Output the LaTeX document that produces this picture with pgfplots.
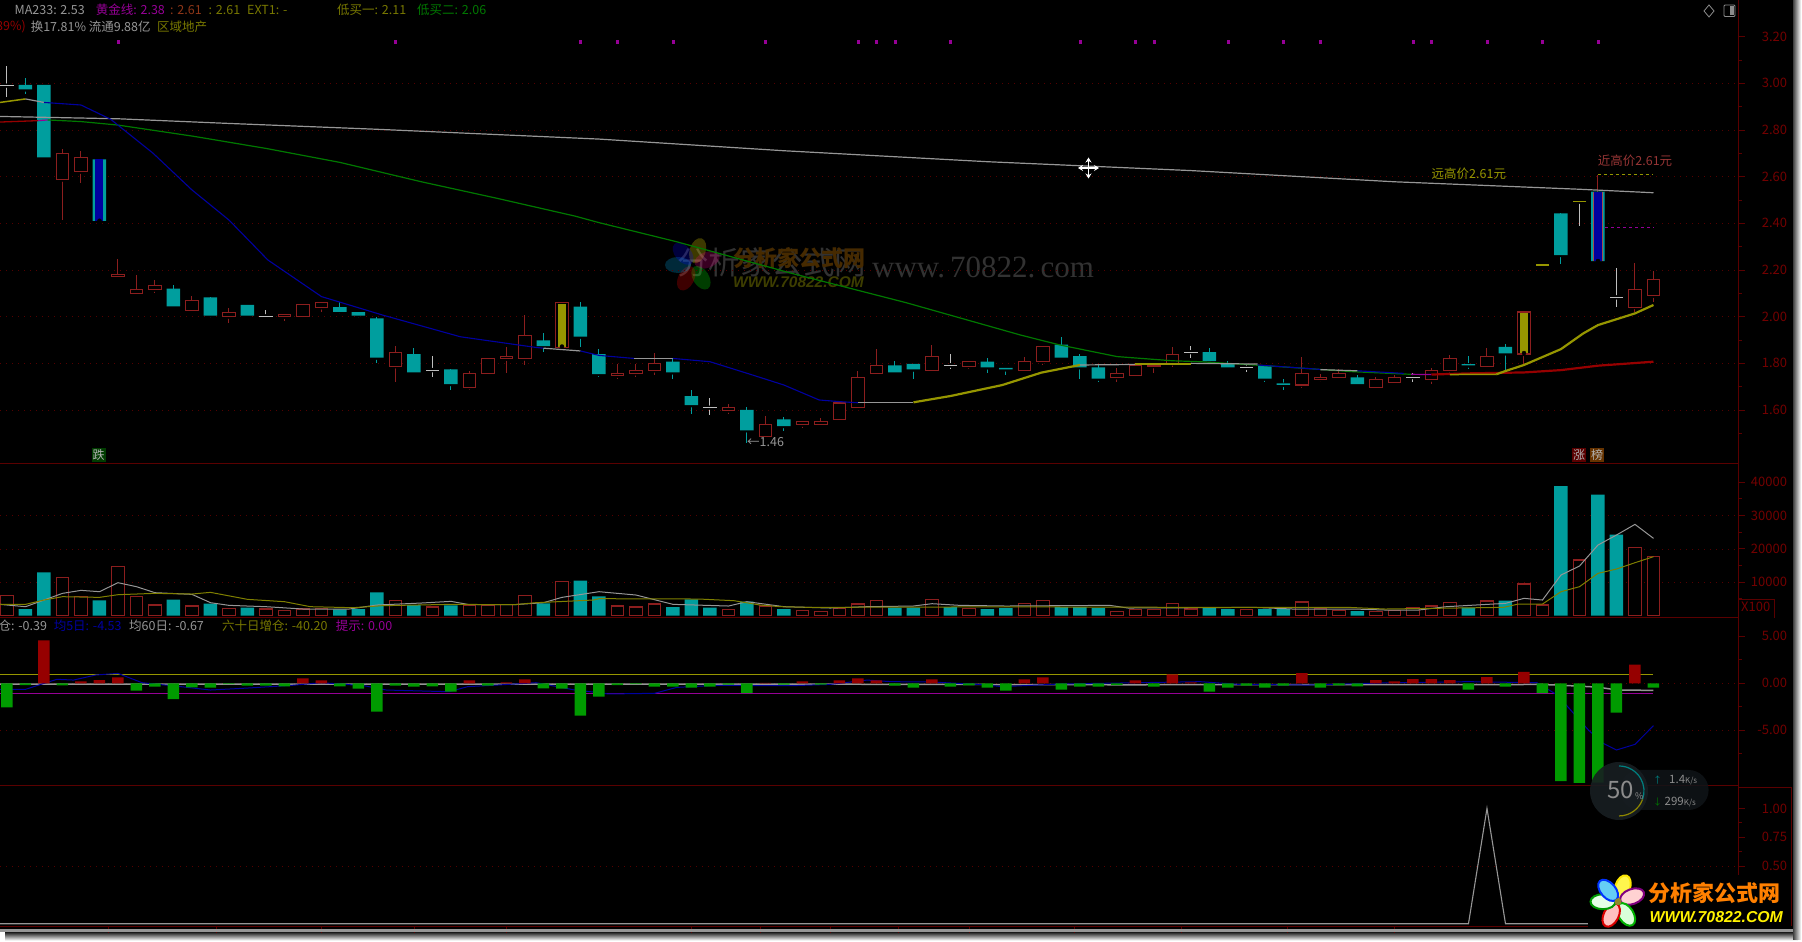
\documentclass[border=0pt]{standalone}
\usepackage{fontspec}
\setmainfont{Noto Sans CJK SC}
\newfontfamily\serifw{Liberation Serif}
\newfontfamily\logow{Liberation Sans}
\usepackage{pgfplots}
\usepackage{pgfplotstable}
\usetikzlibrary{arrows.meta}
\pgfplotsset{compat=1.18}
\definecolor{ccyan}{RGB}{0,158,158}
\definecolor{cred}{RGB}{140,30,30}
\definecolor{axred}{RGB}{90,0,0}
\definecolor{tickred}{RGB}{115,0,0}
\definecolor{gridred}{RGB}{85,0,0}
\definecolor{cgrey}{RGB}{150,150,150}
\definecolor{clight}{RGB}{190,190,190}
\definecolor{colive}{RGB}{150,150,0}
\definecolor{cblue}{RGB}{0,0,160}
\definecolor{cgreen}{RGB}{0,120,0}
\definecolor{bgreen}{RGB}{0,155,0}
\definecolor{bred}{RGB}{150,0,0}
\definecolor{cpurple}{RGB}{150,0,150}
\definecolor{widgetbg}{RGB}{24,30,34}
\definecolor{widgetpill}{RGB}{16,20,24}
\definecolor{wmorange}{RGB}{70,42,0}
\definecolor{wmolive}{RGB}{62,62,0}
\definecolor{wmgrey}{RGB}{50,50,50}

% candles: i low bodybottom bodytop high
\pgfplotstableread{
i low bot top high
1 2.953 2.974 2.993 3.024
2 2.674 2.683 2.993 2.993
5 2.411 2.411 2.674 2.674
9 2.044 2.044 2.120 2.134
11 1.996 2.004 2.083 2.083
13 2.004 2.004 2.051 2.051
18 2.013 2.021 2.041 2.061
19 1.996 2.004 2.020 2.020
20 1.800 1.824 1.993 2.000
22 1.761 1.761 1.840 1.864
24 1.686 1.711 1.774 1.774
29 1.850 1.874 1.898 1.931
31 1.871 1.914 2.043 2.061
32 1.743 1.754 1.840 1.860
36 1.733 1.761 1.807 1.824
37 1.581 1.621 1.660 1.686
40 1.457 1.513 1.601 1.613
42 1.511 1.531 1.560 1.571
48 1.761 1.761 1.791 1.810
49 1.734 1.774 1.798 1.798
53 1.760 1.783 1.807 1.821
54 1.751 1.774 1.781 1.781
57 1.824 1.824 1.880 1.911
58 1.733 1.783 1.831 1.840
59 1.721 1.734 1.783 1.793
65 1.804 1.810 1.848 1.864
66 1.783 1.783 1.797 1.810
68 1.721 1.734 1.790 1.790
69 1.686 1.708 1.714 1.733
73 1.711 1.711 1.740 1.750
79 1.774 1.791 1.797 1.831
81 1.771 1.843 1.871 1.881
84 2.224 2.264 2.443 2.443
86 2.238 2.238 2.536 2.536
}\candledown
\pgfplotstableread{
i low bot top high
3 2.414 2.588 2.700 2.717
4 2.574 2.621 2.681 2.710
6 2.171 2.171 2.181 2.246
7 2.093 2.098 2.118 2.178
8 2.103 2.116 2.133 2.157
10 2.025 2.025 2.068 2.088
12 1.971 2.000 2.018 2.038
15 1.981 2.000 2.010 2.013
16 1.996 2.000 2.051 2.051
17 2.021 2.040 2.060 2.064
21 1.721 1.788 1.848 1.875
25 1.686 1.698 1.758 1.768
26 1.752 1.757 1.821 1.825
27 1.760 1.820 1.830 1.868
28 1.793 1.820 1.920 2.007
30 1.868 1.868 2.060 2.060
33 1.733 1.747 1.758 1.796
34 1.743 1.757 1.771 1.796
35 1.750 1.770 1.800 1.846
39 1.581 1.598 1.610 1.624
41 1.487 1.487 1.538 1.576
43 1.523 1.537 1.550 1.550
44 1.537 1.537 1.550 1.566
45 1.560 1.560 1.630 1.630
46 1.609 1.609 1.738 1.768
47 1.750 1.756 1.790 1.860
50 1.770 1.770 1.828 1.877
52 1.774 1.788 1.807 1.807
55 1.761 1.770 1.807 1.827
56 1.793 1.807 1.871 1.875
60 1.721 1.740 1.758 1.779
61 1.747 1.747 1.793 1.793
62 1.760 1.788 1.793 1.793
63 1.786 1.800 1.838 1.868
70 1.693 1.707 1.757 1.827
71 1.721 1.730 1.740 1.754
72 1.738 1.738 1.757 1.774
74 1.698 1.698 1.731 1.743
75 1.711 1.718 1.740 1.750
77 1.711 1.731 1.771 1.779
78 1.757 1.770 1.820 1.834
80 1.781 1.788 1.828 1.867
82 1.793 1.840 2.020 2.020
88 2.021 2.041 2.117 2.228
89 2.064 2.090 2.160 2.197
}\candleup
\pgfplotstableread{
i low mid high
0 2.943 2.990 3.074
14 2.000 2.002 2.028
23 1.743 1.771 1.831
38 1.580 1.610 1.650
51 1.774 1.791 1.840
64 1.824 1.848 1.874
67 1.761 1.781 1.793
76 1.721 1.741 1.760
85 2.390 2.493 2.493
87 2.043 2.083 2.210
}\candledoji

% volume
\pgfplotstableread{
i v
1 1950
2 12950
5 4550
9 4750
11 3550
13 2350
18 1850
19 1950
20 6950
22 3150
24 3050
29 3650
31 10450
32 5750
36 2550
37 4850
38 2350
40 4150
42 1950
48 2350
49 2350
51 2550
53 1950
54 2250
57 2550
58 2550
59 2250
65 2350
66 1950
68 1950
69 1950
73 1350
79 2350
81 4450
84 38850
86 36250
87 24250
}\voldown
\pgfplotstableread{
i v
0 5950
3 11350
4 5650
6 14750
7 5750
8 3150
10 2850
12 2150
14 1950
15 1550
16 1950
17 2150
21 4450
23 2550
25 3050
26 3050
27 3350
28 5950
30 10150
33 2850
34 2550
35 3450
39 1850
41 2850
43 1550
44 1150
45 2250
46 3450
47 4450
50 4750
52 2150
55 3550
56 4450
60 1150
61 1850
62 1850
63 3550
64 1950
67 1850
70 4050
71 2150
72 1550
74 1150
75 1550
76 2450
77 2850
78 3850
80 4350
82 9450
83 3150
85 16650
88 20350
89 17650
}\volup

% daily flow bars
\pgfplotstableread{
i v
2 4.57
4 0.21
5 0.35
6 0.64
16 0.53
17 0.32
25 0.32
27 0.11
28 0.43
41 0.04
43 0.21
45 0.32
46 0.53
47 0.32
50 0.43
55 0.43
56 0.64
61 0.32
63 0.96
64 0.11
70 1.10
74 0.35
75 0.21
76 0.46
77 0.46
78 0.35
80 0.67
82 1.21
88 1.99
}\flowup
\pgfplotstableread{
i v
0 -2.55
1 -0.18
3 -0.21
7 -0.78
8 -0.35
9 -1.67
10 -0.43
11 -0.46
12 -0.07
13 -0.25
14 -0.25
15 -0.32
18 -0.32
19 -0.57
20 -3.01
21 -0.25
22 -0.35
23 -0.32
24 -0.89
26 -0.25
29 -0.53
30 -0.57
31 -3.44
32 -1.42
33 -0.18
34 -0.07
35 -0.35
36 -0.35
37 -0.46
38 -0.35
39 -0.14
40 -1.03
42 -0.14
44 -0.14
48 -0.25
49 -0.46
51 -0.35
52 -0.21
53 -0.46
54 -0.78
57 -0.67
58 -0.35
59 -0.35
60 -0.18
62 -0.35
65 -0.89
66 -0.46
67 -0.25
68 -0.46
69 -0.25
71 -0.46
72 -0.21
73 -0.32
79 -0.67
81 -0.35
83 -1.03
84 -10.39
85 -10.60
86 -10.57
87 -3.12
89 -0.46
}\flowdown

\pgfplotsset{
  panel/.style={scale only axis, width=1738.6pt, xmin=-0.378, xmax=93.6,
    anchor=south west, clip=true},
  mainp/.style={panel, at={(0pt,478.3pt)}, height=463.7pt, ymin=1.370, ymax=3.357},
  redaxis/.style={axis y line*=right, axis x line*=bottom, xtick=\empty,
    axis line style={axred, line width=0.9pt, -},
    tick style={axred, line width=0.8pt}, tick align=outside,
    major tick length=6pt, minor tick length=3pt,
    grid style={gridred, line width=0.7pt, dash pattern=on 1pt off 5pt},
    yticklabel style={text=tickred, anchor=east, xshift=46pt,
      font=\fontsize{13}{13}\selectfont,
      /pgf/number format/assume math mode=true,
      /pgf/number format/fixed}},
  twodec/.style={yticklabel style={/pgf/number format/fixed zerofill, /pgf/number format/precision=2}},
  wick/.style={only marks, mark=none, forget plot,
    error bars/y dir=both, error bars/y explicit, error bars/error mark=none,
    error bars/error bar style={solid, line width=1pt, #1}},
  barbody/.style={only marks, mark=none, forget plot,
    error bars/y dir=plus, error bars/y explicit, error bars/error mark=none,
    error bars/error bar style={solid, line width=#1}},
  flatmark/.style={only marks, mark=-, mark size=6.7pt, forget plot,
    mark options={solid, line width=1.2pt, #1}},
}

\begin{document}
\begin{tikzpicture}[x=1pt,y=1pt,
    lbl/.style={inner sep=0pt, anchor=west, font=\fontsize{12.5}{13}\selectfont},
    petal/.style n args={2}{fill=#1, draw=#2, line width=2pt}]
\path[use as bounding box] (0,0) rectangle (1802,942);
\fill[white] (0,0) rectangle (1802,942);
\shade[top color=black!85, bottom color=white] (5,1.5) rectangle (1798,9.5);
\shade[left color=black!75, right color=white] (1793,2) rectangle (1801,941);
\fill[black] (0,12.7) rectangle (1793,942);

% faint watermark in the middle
\node[lbl, text=wmgrey, font=\fontsize{31.5}{32}\selectfont] at (677,680) {分析家公式网};
\begin{scope}[opacity=0.24]
  \foreach \a/\c in {72/yellow,20/magenta,-58/green,-117/red,180/cyan,131/blue}
    \fill[\c, rotate around={\a:(693,677)}] (708,677) ellipse (13 and 8);
\end{scope}
\node[lbl, text=wmorange, font=\fontsize{22}{24}\bfseries\selectfont] at (733,684) {分析家公式网};
\node[lbl, text=wmolive, font=\logow\fontsize{15.5}{16}\bfseries\itshape\selectfont] at (733,660) {WWW.70822.COM};
\node[lbl, text=wmgrey, font=\serifw\fontsize{31}{32}\selectfont] at (872,675) {www.\,70822.\,com};

% price panel: frame, grid, wicks
\begin{axis}[mainp, redaxis, twodec, ymajorgrids,
    ytick={1.6,1.8,2.0,2.2,2.4,2.6,2.8,3.0},
    extra y ticks={3.2}, extra y tick style={grid=none},
    minor ytick={1.5,1.7,1.9,2.1,2.3,2.5,2.7,2.9,3.1}]
  \addplot[wick=ccyan] table[x=i, y=bot, y error plus expr=\thisrow{high}-\thisrow{bot}, y error minus expr=\thisrow{bot}-\thisrow{low}] {\candledown};
  \addplot[wick=cred] table[x=i, y=bot, y error plus expr=\thisrow{high}-\thisrow{bot}, y error minus expr=\thisrow{bot}-\thisrow{low}] {\candleup};
  \addplot[cred, line width=1pt, forget plot] coordinates {(86,2.536) (86,2.608)};
  \addplot[wick=clight] table[x=i, y=mid, y error plus expr=\thisrow{high}-\thisrow{mid}, y error minus expr=\thisrow{mid}-\thisrow{low}] {\candledoji};
  \addplot[flatmark=clight] table[x=i, y=mid] {\candledoji};
\end{axis}

% candle bodies, falling days
\begin{axis}[mainp, hide axis, ybar stacked, bar width=13.5pt]
  \addplot[draw=none, fill=none] table[x=i, y=bot] {\candledown};
  \addplot[draw=none, fill=ccyan] table[x=i, y expr=\thisrow{top}-\thisrow{bot}] {\candledown};
\end{axis}
% candle bodies, rising days
\begin{axis}[mainp, hide axis, ybar stacked, bar width=12.6pt]
  \addplot[draw=none, fill=none] table[x=i, y=bot] {\candleup};
  \addplot[draw=cred, fill=black, line width=1.1pt] table[x=i, y expr=\thisrow{top}-\thisrow{bot}] {\candleup};
\end{axis}

% marked candles, moving averages, signals
\begin{axis}[mainp, hide axis]
  \addplot[barbody=8pt, error bars/error bar style={cblue}] table[x=i, y=bot, y error expr=\thisrow{top}-\thisrow{bot}] {
i bot top
5 2.411 2.674
};
  \addplot[barbody=9.5pt, error bars/error bar style={cred!80!white}] table[x=i, y=bot, y error expr=\thisrow{top}-\thisrow{bot}] {
i bot top
86 2.238 2.536
};
  \addplot[barbody=7.5pt, error bars/error bar style={cblue}] table[x=i, y=bot, y error expr=\thisrow{top}-\thisrow{bot}] {
i bot top
86 2.238 2.536
};
  \addplot[barbody=8pt, error bars/error bar style={colive}] table[x=i, y=bot, y error expr=\thisrow{top}-\thisrow{bot}] {
i bot top
30 1.872 2.056
82 1.844 2.016
};
  % flat ticks of the two olive dojis
  \addplot[flatmark=colive] coordinates {(83,2.221) (85,2.493)};

  % MA233
  \addplot[cgrey, line width=1.2pt] coordinates {(-0.378,2.858) (6,2.848) (12,2.828) (20,2.803) (32,2.761) (42,2.711) (53,2.664) (64,2.626) (75,2.578) (85,2.546) (89,2.531)};
  % red / green long average
  \addplot[bred, line width=1.3pt] coordinates {(-0.378,2.834) (1.7,2.84)};
  \addplot[cpurple, line width=1.2pt] coordinates {(1.7,2.84) (2.2,2.843)};
  \addplot[cgreen, line width=1.2pt] coordinates {(2.2,2.843) (4,2.836) (6,2.821) (10,2.774) (14,2.721) (18,2.661) (22.4,2.578) (26.5,2.507) (30.7,2.431) (32,2.403) (36.2,2.321) (42.4,2.186) (48.6,2.060) (54.8,1.921) (56.9,1.879) (60,1.829) (63,1.811) (64.5,1.807) (66.6,1.797) (69.7,1.781) (72.8,1.764) (75.9,1.753)};
  \addplot[cpurple, line width=1.2pt] coordinates {(75.9,1.753) (77,1.752)};
  \addplot[bred, line width=2.2pt] coordinates {(77,1.752) (79,1.757) (82,1.761) (84,1.771) (86,1.790) (89,1.807)};
  % short average, colour follows its direction
  \addplot[colive, line width=1.5pt] coordinates {(-0.378,2.918) (1,2.933)};
  \addplot[cgrey, line width=1.2pt] coordinates {(1,2.933) (2,2.918)};
  \addplot[cblue, line width=1.1pt] coordinates {(2,2.918) (4,2.907) (5.6,2.846) (7.9,2.70) (10,2.543) (12,2.414) (14.1,2.243) (17,2.086) (20.3,2.007) (24.5,1.914) (28.6,1.868) (29,1.865)};
  \addplot[cgrey, line width=1.2pt] coordinates {(29,1.865) (31,1.853)};
  \addplot[cblue, line width=1.1pt] coordinates {(31,1.853) (32,1.834) (33.9,1.821)};
  \addplot[cgrey, line width=1.2pt] coordinates {(33.9,1.821) (36,1.821)};
  \addplot[cblue, line width=1.1pt] coordinates {(36,1.821) (38,1.807) (40.3,1.75) (42,1.707) (43.9,1.643) (45,1.636) (46,1.631)};
  \addplot[cgrey, line width=1.2pt] coordinates {(46,1.631) (49,1.631)};
  \addplot[colive, line width=2.2pt] coordinates {(49,1.633) (51,1.660) (53.8,1.707) (55.9,1.760) (58,1.793)};
  \addplot[cgrey, line width=1.2pt] coordinates {(58,1.793) (61,1.795)};
  \addplot[colive, line width=2.2pt] coordinates {(61,1.797) (64,1.797)};
  \addplot[cgrey, line width=1.2pt] coordinates {(64,1.80) (67.6,1.797)};
  \addplot[cblue, line width=1.1pt] coordinates {(67.6,1.793) (71,1.774)};
  \addplot[cgrey, line width=1.2pt] coordinates {(71,1.773) (73,1.768)};
  \addplot[cblue, line width=1.1pt] coordinates {(73,1.768) (75.5,1.757)};
  \addplot[colive, line width=1.5pt] coordinates {(78,1.752) (80.5,1.753)};
  \addplot[colive, line width=2.2pt] coordinates {(80.5,1.753) (81,1.767) (82,1.793) (84,1.861) (85.2,1.928) (86,1.964) (88,2.014) (89,2.050)};
  % signal dots and the two dashed levels
  \addplot[only marks, mark=square*, mark size=1.1pt, cpurple] coordinates {(6,3.178) (21,3.178) (31,3.178) (33,3.178) (36,3.178) (41,3.178) (46,3.178) (47,3.178) (48,3.178) (51,3.178) (58,3.178) (61,3.178) (62,3.178) (66,3.178) (69,3.178) (71,3.178) (76,3.178) (77,3.178) (80,3.178) (83,3.178) (86,3.178)};
  \addplot[colive, line width=1.1pt, dash pattern=on 3pt off 3pt] coordinates {(86,2.608) (89,2.608)};
  \addplot[cpurple, line width=1.1pt, dash pattern=on 3pt off 3pt] coordinates {(86.4,2.383) (89,2.383)};
\end{axis}

% volume panel
\begin{axis}[panel, redaxis, at={(0pt,324.3pt)}, height=154pt, ymin=-650, ymax=45550,
    ymajorgrids, ytick={10000,20000,30000}, extra y ticks={40000}, extra y tick style={grid=none},
    minor ytick={5000,15000,25000,35000}, scaled y ticks=false,
    yticklabel style={/pgf/number format/precision=0, /pgf/number format/1000 sep={}}]
  \addplot[ybar, bar shift=0pt, bar width=13.5pt, draw=none, fill=ccyan] table[x=i, y=v] {\voldown};
  \addplot[ybar, bar shift=0pt, bar width=12.6pt, draw=cred, fill=black, line width=1.1pt] table[x=i, y=v] {\volup};
  \addplot[sharp plot, cgrey, line width=1pt] coordinates {(-0.378,3350) (1,2650) (2,4650) (3,6650) (4,7550) (5,7150) (6,9850) (7,8650) (8,6850) (10,6350) (11,3850) (12,3050) (14,2650) (16,1950) (18.5,1950) (20,3150) (22.4,3750) (24,4250) (25,3250) (27.4,3250) (29,3850) (30,5450) (32,7150) (34,6150) (36,3350) (39,2850) (40,4150) (42,2650) (44.5,2250) (46.5,2650) (49,2850) (50,3550) (51.5,3050) (54,2850) (59.6,3050) (60.6,2250) (64.5,2350) (67.4,2450) (69.5,1950) (72.8,1950) (74.5,1650) (76.3,1650) (77.8,2650) (81,3650) (82,5150) (83,4650) (84,12150) (85,14850) (86,21150) (87,24150) (88,27350) (89,23150)};
  \addplot[sharp plot, colive!85!black, line width=1pt] coordinates {(-0.378,3350) (1,3350) (2,4650) (3,5650) (5,5450) (6,6250) (8,6650) (10,6450) (11,6950) (13,4850) (15,4150) (16.4,2650) (18.7,2350) (20.3,2950) (24,3350) (27.4,3250) (28.6,3850) (31.7,4650) (32,5050) (37.4,4950) (39.3,4450) (40.7,3150) (41.8,2650) (43.4,2450) (54,2600) (64.5,2450) (72.5,2450) (74.5,1950) (80.9,2450) (81.7,3450) (83,3450) (84,7150) (85,8650) (86,12650) (87,13950) (88,15850) (89,17650)};
\end{axis}
\node[lbl, text=tickred] at (1741,335) {\fontsize{13}{13}\selectfont X100};
\draw[axred, line width=0.8pt] (1739,343) -- (1774,343) -- (1774,324.3);

% flow panel
\begin{axis}[panel, redaxis, twodec, at={(0pt,156.3pt)}, height=168pt, ymin=-10.887, ymax=6.986,
    ymajorgrids, ytick={-5,0}, extra y ticks={5}, extra y tick style={grid=none},
    minor ytick={-7.5,-2.5,2.5}]
  \addplot[sharp plot, cgrey, line width=1.5pt] coordinates {(-0.378,-0.07) (40,-0.07) (60,-0.15) (83,-0.12) (84,-0.2) (86,-0.4) (87,-0.7) (89,-0.75)};
  \addplot[sharp plot, colive, line width=1pt] coordinates {(-0.378,0.96) (89,0.96)};
  \addplot[sharp plot, cpurple, line width=1pt] coordinates {(-0.378,-1.06) (89,-1.06)};
  \addplot[sharp plot, cblue, line width=1pt] coordinates {(-0.378,-0.64) (1,-0.64) (2,0) (2.7,0.43) (3.6,0.35) (4.8,0.89) (6,1.06) (7.3,0.07) (9.4,-0.35) (11,-0.71) (13,-0.5) (15.4,-0.21) (17,0.07) (19.3,-0.25) (20.5,-0.71) (23.9,-0.89) (24.9,-0.35) (26.5,-0.18) (28.6,0.07) (30.7,-0.71) (32,-0.99) (32.5,-1.13) (35,-1.06) (36.2,-0.43) (38.3,-0.21) (42.4,-0.25) (44.5,-0.11) (46.5,0.35) (47.8,0.18) (50,0.14) (52.8,-0.14) (53.8,-0.35) (56.9,-0.07) (64.5,0.18) (66.6,-0.11) (70.3,-0.18) (74.9,0.07) (79,0.18) (82.7,0.07) (83.8,-1.24) (85.5,-5.0) (86.3,-6.4) (87,-7.09) (88,-6.49) (89,-4.5)};
  \addplot[ybar, bar shift=0pt, bar width=11.5pt, draw=none, fill=bgreen] table[x=i, y=v] {\flowdown};
  \addplot[ybar, bar shift=0pt, bar width=11.5pt, draw=none, fill=bred] table[x=i, y=v] {\flowup};
\end{axis}

% signal panel
\begin{axis}[panel, redaxis, twodec, at={(0pt,15.3pt)}, height=141pt, ymin=-0.026, ymax=1.197,
    ymajorgrids, ytick={0.5}, extra y ticks={0.75,1}, extra y tick style={grid=none},
    minor ytick={0.625,0.875}, xtick={5.5,11.3,17,22,27,37,40.7,44.5,48.2,52,57.7,63.5,69.2,75},
    xticklabels={}]
  \addplot[sharp plot, cgrey, line width=1.1pt] coordinates {(-0.378,0) (79,0) (80,1) (81,0) (89,0)};
\end{axis}
\draw[axred, line width=0.8pt] (1739,155) -- (1791,155) -- (1791,16);

% scroll band along the bottom
\fill[cgrey] (0,9.5) rectangle (1793,12.7);

% network widget
\fill[widgetpill, opacity=0.85, rounded corners=20pt] (1620,132) rectangle (1708.6,172);
\fill[widgetbg, opacity=0.9] (1619,151) circle (29);
\draw[teal, line width=1.2pt] (1619,176) arc (90:-20:25);
\draw[olive, line width=1.2pt] (1642.5,142.5) arc (-20:-90:25);
\node[lbl, text=black!45, font=\fontsize{24}{24}\selectfont] at (1607,152) {50};
\node[lbl, text=black!45, font=\fontsize{9}{9}\selectfont] at (1635,146) {\%};
\node[lbl, text=black!45, font=\fontsize{11.5}{12}\selectfont] at (1664.5,140.3) {299\fontsize{8}{8}\selectfont K/s};
\node[lbl, text=black!45, font=\fontsize{11.5}{12}\selectfont] at (1669,162) {1.4\fontsize{8}{8}\selectfont K/s};
\node[lbl, text=teal, font=\fontsize{9}{9}\selectfont] at (1653,162) {↑};
\node[lbl, text=cgreen, font=\fontsize{9}{9}\selectfont] at (1653,140) {↓};

% logo, bottom right
\fill[black] (1588,12.7) rectangle (1789,67);
\foreach \a/\f/\e in {72/yellow!70!white/yellow!90!orange,20/pink!70!white/violet,-58/white!85!green/green!70!black,-117/pink/red!85!black,180/white!90!green/green!60!black,131/cyan!60!white/blue!80!cyan}
  \filldraw[petal={\f}{\e}, rotate around={\a:(1618,40.3)}] (1633,40.3) ellipse (12.5 and 7.5);
\fill[olive!70!gray] (1618,40.3) circle (3.5);
\node[lbl, text=orange, font=\fontsize{22}{24}\bfseries\selectfont] at (1648.5,49) {分析家公式网};
\node[lbl, text=yellow, font=\logow\fontsize{15.8}{16}\bfseries\itshape\selectfont] at (1649.5,25.3) {WWW.70822.COM};

% header lines
\node[lbl, text=cgrey] at (14.5,932) {MA233: 2.53};
\node[lbl, text=cpurple] at (95.7,932) {黄金线: 2.38};
\node[lbl, text=cred!80!colive] at (170,932) {: 2.61};
\node[lbl, text=colive!80!black] at (208.5,932) {: 2.61};
\node[lbl, text=colive!80!black] at (247,932) {EXT1: -};
\node[lbl, text=colive!80!black] at (337,932) {低买一: 2.11};
\node[lbl, text=cgreen] at (417,932) {低买二: 2.06};
\node[lbl, text=bred] at (-4,915.3) {89\%)};
\node[lbl, text=cgrey] at (30.6,915.3) {换17.81\% 流通9.88亿};
\node[lbl, text=colive!80!black] at (157,915.3) {区域地产};
\node[lbl, text=cgrey] at (-1.5,316) {仓: -0.39};
\node[lbl, text=cblue] at (53.6,316) {均5日: -4.53};
\node[lbl, text=cgrey] at (129,316) {均60日: -0.67};
\node[lbl, text=colive!80!black] at (222,316) {六十日增仓: -40.20};
\node[lbl, text=cpurple] at (335.6,316) {提示: 0.00};

% chart annotations
\node[lbl, text=cgrey] at (747,500.3) {←1.46};
\node[lbl, text=colive] at (1431.5,768) {远高价2.61元};
\node[lbl, text=cred!90!white] at (1597.7,781) {近高价2.61元};
\node[inner sep=0pt, minimum width=14pt, minimum height=14pt, fill=cgreen!50!black, text=black!30,
  font=\fontsize{12}{12}\selectfont] at (98.7,487) {跌};
\node[inner sep=0pt, minimum width=14pt, minimum height=14pt, fill=bred!60!black, text=black!30,
  font=\fontsize{12}{12}\selectfont] at (1579,487) {涨};
\node[inner sep=0pt, minimum width=14pt, minimum height=14pt, fill=orange!40!black, text=black!30,
  font=\fontsize{12}{12}\selectfont] at (1597,487) {榜};

% window icons and mouse cursor
\draw[black!45, line width=0.8pt] (1709,937) -- (1714,931) -- (1709,925) -- (1704,931) -- cycle;
\draw[black!45, line width=0.8pt, rounded corners=1pt] (1724,925.5) rectangle (1735,937);
\fill[black!45] (1730,926.5) rectangle (1734,936);
\draw[white, line width=1.2pt, {Stealth[length=5pt,width=6pt]}-{Stealth[length=5pt,width=6pt]}] (1078,774) -- (1099,774);
\draw[white, line width=1.2pt, {Stealth[length=5pt,width=6pt]}-{Stealth[length=5pt,width=6pt]}] (1088.5,763.5) -- (1088.5,784.5);
\end{tikzpicture}
\end{document}
